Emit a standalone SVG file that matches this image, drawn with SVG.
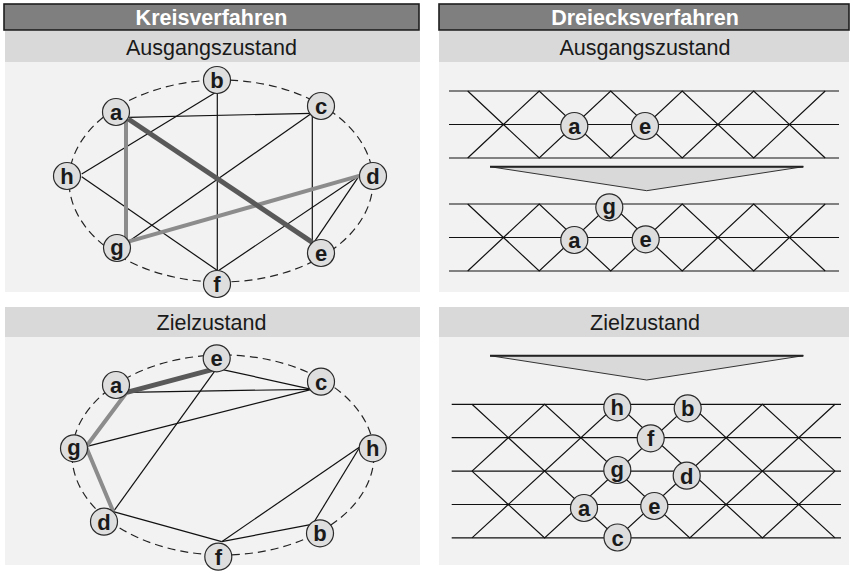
<svg xmlns="http://www.w3.org/2000/svg" xmlns:xlink="http://www.w3.org/1999/xlink" width="850" height="574" viewBox="0 0 850 574">
  <style>
    .head { fill: #7f7f7f; stroke: #1e1e1e; stroke-width: 1.6; }
    .sub { fill: #d9d9d9; }
    .body { fill: #f2f2f2; }
    .htxt { font-family: "Liberation Sans", Arial, sans-serif; font-weight: bold; font-size: 21.5px; fill: #ffffff; text-anchor: middle; }
    .stxt { font-family: "Liberation Sans", Arial, sans-serif; font-size: 21.5px; fill: #1a1a1a; text-anchor: middle; }
    .ring { fill: none; stroke: #222; stroke-width: 1.2; stroke-dasharray: 8 5; }
    .edge { fill: none; stroke: #111; stroke-width: 1.2; }
    .hot { fill: none; stroke: #595959; stroke-width: 5; stroke-linecap: butt; }
    .warm { fill: none; stroke: #8c8c8c; stroke-width: 4; stroke-linejoin: round; }
    .grid { fill: none; stroke: #111; stroke-width: 1.2; }
    .node circle { fill: #dedede; stroke: #2a2a2a; stroke-width: 1.2; }
    .node text { font-family: "Liberation Sans", Arial, sans-serif; font-weight: bold; font-size: 22px; fill: #1a1a1a; text-anchor: middle; }
    .wedge { fill: #d9d9d9; stroke: #333; stroke-width: 1; stroke-linejoin: miter; }
    .wedge-top { stroke: #222; stroke-width: 2; }
  </style>
  <defs>
    <!-- one band of the triangle lattice, upper right panel -->
    <g id="bandA">
      <path class="grid" d="M449,0 H839 M449,33.5 H839 M449,67 H839"/>
      <path class="grid" d="M467.7,0 L539.2,67 L610.7,0 L682.2,67 L753.7,0 L825.2,67"/>
      <path class="grid" d="M467.7,67 L539.2,0 L610.7,67 L682.2,0 L753.7,67 L825.2,0"/>
    </g>
    <!-- one band of the triangle lattice, lower right panel -->
    <g id="bandB">
      <path class="grid" d="M472,0 L544.6,66.8 L617.2,0 L689.8,66.8 L762.4,0 L835,66.8"/>
      <path class="grid" d="M472,66.8 L544.6,0 L617.2,66.8 L689.8,0 L762.4,66.8 L835,0"/>
    </g>
  </defs>

  <rect width="850" height="574" fill="#ffffff"/>

  <!-- panel backgrounds -->
  <g id="panels">
    <rect class="body" x="5" y="62" width="415" height="230"/>
    <rect class="sub" x="5" y="31" width="415" height="31"/>
    <rect class="head" x="4" y="4" width="415" height="26"/>
    <text class="htxt" x="211.5" y="25">Kreisverfahren</text>
    <text class="stxt" x="211.5" y="54.5">Ausgangszustand</text>

    <rect class="body" x="439" y="62" width="410" height="230"/>
    <rect class="sub" x="439" y="31" width="410" height="31"/>
    <rect class="head" x="439" y="4" width="410" height="26"/>
    <text class="htxt" x="645" y="25">Dreiecksverfahren</text>
    <text class="stxt" x="645" y="54.5">Ausgangszustand</text>

    <rect class="body" x="5" y="337" width="415" height="228"/>
    <rect class="sub" x="5" y="307" width="415" height="30"/>
    <text class="stxt" x="211.5" y="329.5">Zielzustand</text>

    <rect class="body" x="439" y="337" width="410" height="228"/>
    <rect class="sub" x="439" y="307" width="410" height="30"/>
    <text class="stxt" x="645" y="329.5">Zielzustand</text>
  </g>

  <!-- dashed circle layouts -->
  <ellipse class="ring" cx="221" cy="181" rx="152" ry="101"/>
  <ellipse class="ring" cx="223" cy="455" rx="151" ry="100"/>

  <!-- transition wedges -->
  <g id="wedges">
    <polygon class="wedge" points="490,166.7 803.3,166.7 646.7,190.7"/>
    <line class="wedge-top" x1="490" y1="166.7" x2="803.3" y2="166.7"/>
    <polygon class="wedge" points="490,355.7 803.3,355.7 646.7,380"/>
    <line class="wedge-top" x1="490" y1="355.7" x2="803.3" y2="355.7"/>
  </g>

  <g id="connectors">
    <!-- circle method, start state -->
    <line class="edge" x1="128.3" y1="117.3" x2="311.7" y2="113.3"/>
    <line class="edge" x1="81.7" y1="174" x2="216.7" y2="91.7"/>
    <line class="edge" x1="81.7" y1="176.7" x2="216.7" y2="270"/>
    <line class="edge" x1="217.3" y1="91.7" x2="217.3" y2="270"/>
    <line class="edge" x1="312.3" y1="113.3" x2="312.3" y2="243.3"/>
    <line class="edge" x1="311.7" y1="113.3" x2="128.3" y2="241.7"/>
    <line class="edge" x1="359.3" y1="175.7" x2="218.3" y2="270.7"/>
    <line class="edge" x1="359.3" y1="175.7" x2="313.3" y2="243.3"/>
    <line class="warm" x1="126" y1="120" x2="126" y2="241.7"/>
    <line class="warm" x1="128.3" y1="241.7" x2="360" y2="175.7"/>
    <line class="hot" x1="128.3" y1="119" x2="312.3" y2="242.3"/>

    <!-- circle method, target state -->
    <line class="edge" x1="126.7" y1="392.3" x2="311.7" y2="389.3"/>
    <line class="edge" x1="216.7" y1="368.3" x2="311.7" y2="389.3"/>
    <line class="edge" x1="216.7" y1="368.3" x2="113.3" y2="511.7"/>
    <line class="edge" x1="86" y1="446.7" x2="311.7" y2="389.3"/>
    <line class="edge" x1="113.3" y1="511.7" x2="221.7" y2="541.7"/>
    <line class="edge" x1="221.7" y1="541.7" x2="360" y2="446.7"/>
    <line class="edge" x1="221.7" y1="541.7" x2="311.7" y2="524.3"/>
    <line class="edge" x1="313.3" y1="523.3" x2="360" y2="446.7"/>
    <polyline class="warm" points="126,393.3 86,446.7 113.3,511.7"/>
    <line class="hot" x1="126.7" y1="392.3" x2="216.7" y2="368.3"/>

    <!-- triangle lattices -->
    <use xlink:href="#bandA" transform="translate(0,91)"/>
    <use xlink:href="#bandA" transform="translate(0,204)"/>
    <path class="grid" d="M451.7,404.3 H841 M451.7,437.7 H841 M451.7,471.1 H841 M451.7,504.5 H841 M451.7,537.9 H841"/>
    <use xlink:href="#bandB" transform="translate(0,404.3)"/>
    <use xlink:href="#bandB" transform="translate(0,471.1)"/>
  </g>

  <!-- circle method, start state -->
  <g id="k1-b" class="node"><circle cx="217" cy="80" r="13.5"/><text x="217" y="88">b</text></g>
  <g id="k1-a" class="node"><circle cx="116" cy="112" r="13.5"/><text x="116" y="120">a</text></g>
  <g id="k1-c" class="node"><circle cx="321" cy="106" r="13.5"/><text x="321" y="114">c</text></g>
  <g id="k1-h" class="node"><circle cx="67" cy="176" r="13.5"/><text x="67" y="184">h</text></g>
  <g id="k1-d" class="node"><circle cx="373" cy="176" r="13.5"/><text x="373" y="184">d</text></g>
  <g id="k1-g" class="node"><circle cx="117" cy="248" r="13.5"/><text x="117" y="254.5">g</text></g>
  <g id="k1-e" class="node"><circle cx="321" cy="253" r="13.5"/><text x="321" y="261">e</text></g>
  <g id="k1-f" class="node"><circle cx="217" cy="284" r="13.5"/><text x="217" y="292">f</text></g>

  <!-- circle method, target state -->
  <g id="k2-e" class="node"><circle cx="216.7" cy="358.3" r="13.5"/><text x="216.7" y="366.3">e</text></g>
  <g id="k2-a" class="node"><circle cx="116" cy="385" r="13.5"/><text x="116" y="393">a</text></g>
  <g id="k2-c" class="node"><circle cx="321" cy="381.7" r="13.5"/><text x="321" y="389.7">c</text></g>
  <g id="k2-g" class="node"><circle cx="74" cy="448.3" r="13.5"/><text x="74" y="454.8">g</text></g>
  <g id="k2-h" class="node"><circle cx="372.7" cy="448.3" r="13.5"/><text x="372.7" y="456.3">h</text></g>
  <g id="k2-d" class="node"><circle cx="104" cy="521.7" r="13.5"/><text x="104" y="529.7">d</text></g>
  <g id="k2-b" class="node"><circle cx="320" cy="533.3" r="13.5"/><text x="320" y="541.3">b</text></g>
  <g id="k2-f" class="node"><circle cx="218.3" cy="556.7" r="13.5"/><text x="218.3" y="564.7">f</text></g>

  <!-- triangle method, start state -->
  <g id="d1-a" class="node"><circle cx="574.3" cy="126" r="13.5"/><text x="574.3" y="134">a</text></g>
  <g id="d1-e" class="node"><circle cx="645" cy="126" r="13.5"/><text x="645" y="134">e</text></g>
  <g id="d2-g" class="node"><circle cx="609.3" cy="207.3" r="13.5"/><text x="609.3" y="213.8">g</text></g>
  <g id="d2-a" class="node"><circle cx="574.3" cy="240" r="13.5"/><text x="574.3" y="248">a</text></g>
  <g id="d2-e" class="node"><circle cx="645.7" cy="239.3" r="13.5"/><text x="645.7" y="247.3">e</text></g>

  <!-- triangle method, target state -->
  <g id="d3-h" class="node"><circle cx="617.3" cy="407.3" r="13.5"/><text x="617.3" y="415.3">h</text></g>
  <g id="d3-b" class="node"><circle cx="687.7" cy="408.3" r="13.5"/><text x="687.7" y="416.3">b</text></g>
  <g id="d3-f" class="node"><circle cx="650.7" cy="438.3" r="13.5"/><text x="650.7" y="446.3">f</text></g>
  <g id="d3-g" class="node"><circle cx="617.3" cy="470" r="13.5"/><text x="617.3" y="476.5">g</text></g>
  <g id="d3-d" class="node"><circle cx="686.7" cy="475.7" r="13.5"/><text x="686.7" y="483.7">d</text></g>
  <g id="d3-a" class="node"><circle cx="584" cy="508" r="13.5"/><text x="584" y="516">a</text></g>
  <g id="d3-e" class="node"><circle cx="654.3" cy="506" r="13.5"/><text x="654.3" y="514">e</text></g>
  <g id="d3-c" class="node"><circle cx="617.5" cy="537.5" r="13.5"/><text x="617.5" y="545.5">c</text></g>
</svg>
